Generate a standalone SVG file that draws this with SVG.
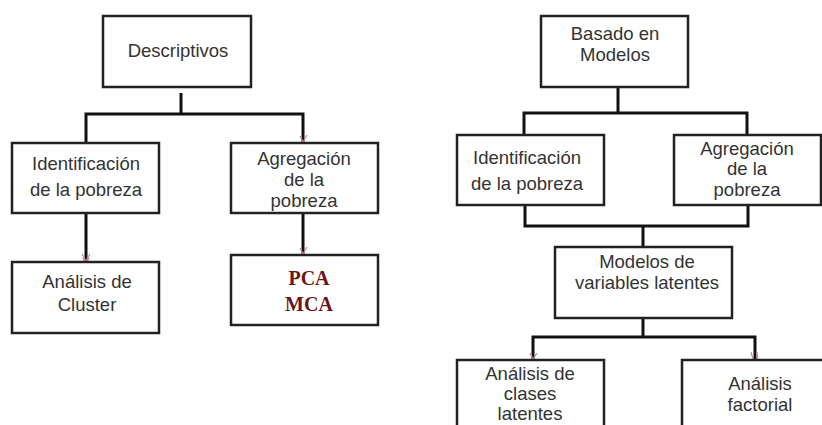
<svg xmlns="http://www.w3.org/2000/svg" width="822" height="425" viewBox="0 0 822 425">
<defs>
<style>
.box{fill:#fff;stroke:#222;stroke-width:2.5}
.t{font-family:"Liberation Sans",Arial,sans-serif;font-size:18.5px;fill:#333;text-anchor:middle}
.b{font-family:"Liberation Serif","Times New Roman",serif;font-size:20px;font-weight:bold;fill:#6e1416;text-anchor:middle}
.c{fill:none;stroke:#111;stroke-width:3;stroke-linejoin:miter}
.m{fill:none;stroke:#c68a96;stroke-width:1.2}
</style>
</defs>
<rect width="822" height="425" fill="#fff"/>
<g id="connectors">
<path class="c" d="M181,93 V114"/>
<path class="c" d="M86,143 V114 H303 V143"/>
<path class="c" d="M86,213 V262"/>
<path class="c" d="M303,213 V255"/>
<path class="c" d="M618,88 V113"/>
<path class="c" d="M524,135 V113 H747 V135"/>
<path class="c" d="M525,205 V226 H748 V205"/>
<path class="c" d="M643,226 V247"/>
<path class="c" d="M643,318 V338"/>
<path class="c" d="M533,360 V337 H755 V360"/>
<path class="m" d="M300,136 L303,142 L307,135"/>
<path class="m" d="M82,254 L86,261 L90,254 M83,258 L86,264 L89,258"/>
<path class="m" d="M300,248 L303,254 L307,247"/>
<path class="m" d="M530,353 L533,359 L537,353"/>
<path class="m" d="M751,352 L753,359 M757,352 L758,359"/>
</g>
<g id="n-descriptivos"><rect class="box" x="103" y="16" width="148" height="71"/><text class="t" x="178" y="57">Descriptivos</text></g>
<g id="n-ident-l"><rect class="box" x="12" y="143" width="147" height="70"/><text class="t" x="86" y="170">Identificación</text><text class="t" x="86" y="196">de la pobreza</text></g>
<g id="n-agreg-l"><rect class="box" x="231" y="143" width="147" height="70"/><text class="t" x="304" y="165">Agregación</text><text class="t" x="304" y="186">de la</text><text class="t" x="304" y="207">pobreza</text></g>
<g id="n-cluster"><rect class="box" x="12" y="262" width="147" height="71"/><text class="t" x="87" y="288">Análisis de</text><text class="t" x="87" y="311">Cluster</text></g>
<g id="n-pca"><rect class="box" x="231" y="255" width="147" height="70"/><text class="b" x="309" y="285">PCA</text><text class="b" x="309" y="311">MCA</text></g>
<g id="n-basado"><rect class="box" x="541" y="16" width="147" height="71"/><text class="t" x="615" y="40">Basado en</text><text class="t" x="615" y="61">Modelos</text></g>
<g id="n-ident-r"><rect class="box" x="457" y="135" width="147" height="70"/><text class="t" x="527" y="164">Identificación</text><text class="t" x="527" y="190">de la pobreza</text></g>
<g id="n-agreg-r"><rect class="box" x="674" y="135" width="147" height="70"/><text class="t" x="747" y="155">Agregación</text><text class="t" x="747" y="175">de la</text><text class="t" x="747" y="196">pobreza</text></g>
<g id="n-modelos"><rect class="box" x="555" y="247" width="177" height="71"/><text class="t" x="647" y="268">Modelos de</text><text class="t" x="647" y="289">variables latentes</text></g>
<g id="n-clases"><rect class="box" x="457" y="360" width="147" height="80"/><text class="t" x="530" y="380">Análisis de</text><text class="t" x="530" y="400">clases</text><text class="t" x="530" y="420">latentes</text></g>
<g id="n-factorial"><rect class="box" x="682" y="360" width="160" height="80"/><text class="t" x="760" y="390">Análisis</text><text class="t" x="760" y="411">factorial</text></g>
</svg>
